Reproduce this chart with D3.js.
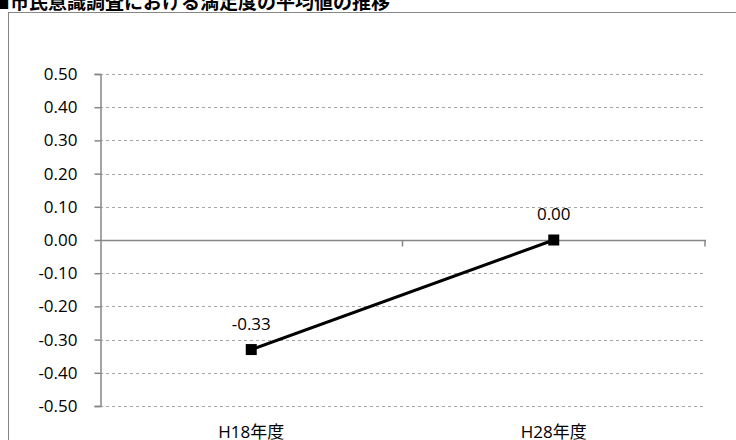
<!DOCTYPE html>
<meta charset="utf-8">
<script src="https://d3js.org/d3.v7.min.js"></script>
<style>
  body { margin: 0; background: #fff; }
  text { font-family: "Open Sans", "Noto Sans CJK JP", sans-serif; }
</style>
<body>
<svg width="736" height="440"></svg>
<script>
    var title      = "■市民意識調査における満足度の平均値の推移";
    var categories = ["H18年度", "H28年度"];
    var values     = [-0.33, 0.00];
    var yTicks     = [0.5, 0.4, 0.3, 0.2, 0.1, 0, -0.1, -0.2, -0.3, -0.4, -0.5];

    var svg = d3.select('svg');
    var plotLeft = 100, plotRight = 705, plotTop = 74, plotBottom = 406;
    var fmt = function(v){ return d3.format('.2f')(v).replace('−', '-'); };

    // outer chart frame, clipped by the window
    svg.append('rect').attr('x', 8.5).attr('y', 12.5).attr('width', 760).attr('height', 460)
       .attr('fill', 'none').attr('stroke', '#868686').attr('stroke-width', 1);

    // title, its top is cut by the window
    svg.append('text').attr('x', -9).attr('y', 9).text(title)
       .attr('font-family', '"Noto Sans CJK JP"').attr('font-weight', 'bold')
       .attr('font-size', '19px').attr('fill', '#000');

    var x = d3.scaleBand().domain(categories).range([plotLeft, plotRight]);
    var y = d3.scaleLinear().domain([-0.5, 0.5]).range([plotBottom, plotTop]);
    var cx = function(d){ return x(d.c) + x.bandwidth() / 2; };
    var y0 = Math.round(y(0)) + 0.5;

    // dashed gridlines
    svg.append('g').selectAll('line').data(yTicks.filter(function(d){ return d != 0; }))
       .enter().append('line')
       .attr('x1', plotLeft).attr('x2', plotRight)
       .attr('y1', function(d){ return Math.round(y(d)) + 0.5; })
       .attr('y2', function(d){ return Math.round(y(d)) + 0.5; })
       .attr('stroke', '#a6a6a6').attr('stroke-dasharray', '3,3');

    // y axis
    var yAxis = svg.append('g').attr('transform', 'translate(' + (plotLeft + 0.5) + ',0)')
       .call(d3.axisLeft(y).tickValues(yTicks).tickFormat(fmt).tickSize(6).tickPadding(17)
             .offset(0.5));
    yAxis.select('.domain').attr('stroke', '#868686').attr('stroke-width', 1.5);
    yAxis.selectAll('.tick line').attr('stroke', '#868686').attr('stroke-width', 1.5);
    yAxis.selectAll('.tick text').attr('font-size', '17px').attr('fill', '#000');

    // x axis at zero
    svg.append('line').attr('x1', plotLeft).attr('x2', plotRight + 1)
       .attr('y1', y0).attr('y2', y0)
       .attr('stroke', '#868686').attr('stroke-width', 1.5);
    svg.append('g').selectAll('line').data(categories.slice(1).map(function(c){ return x(c); }).concat([plotRight]))
       .enter().append('line')
       .attr('x1', function(d){ return d; }).attr('x2', function(d){ return d; })
       .attr('y1', y0).attr('y2', y0 + 6)
       .attr('stroke', '#868686').attr('stroke-width', 1.5);

    // category labels at the bottom
    svg.append('g').selectAll('text').data(categories).enter().append('text')
       .attr('x', function(d){ return x(d) + x.bandwidth() / 2; })
       .attr('y', 438).attr('text-anchor', 'middle')
       .attr('font-size', '17px').attr('fill', '#000').text(function(d){ return d; });

    var pts = categories.map(function(c, i){ return {c: c, v: values[i]}; });

    var line = d3.line().x(cx).y(function(d){ return y(d.v); });

    svg.append('path').datum(pts).attr('d', line)
       .attr('fill', 'none').attr('stroke', '#000').attr('stroke-width', 3);

    svg.append('g').selectAll('rect').data(pts).enter().append('rect')
       .attr('x', function(d){ return cx(d) - 5.5; })
       .attr('y', function(d){ return y(d.v) - 5.5; })
       .attr('width', 11).attr('height', 11).attr('fill', '#000');

    svg.append('g').selectAll('text').data(pts).enter().append('text')
       .attr('x', cx)
       .attr('y', function(d){ return y(d.v) - 20; })
       .attr('text-anchor', 'middle').attr('font-size', '17px').attr('fill', '#000')
       .text(function(d){ return fmt(d.v); });
</script>
</body>
